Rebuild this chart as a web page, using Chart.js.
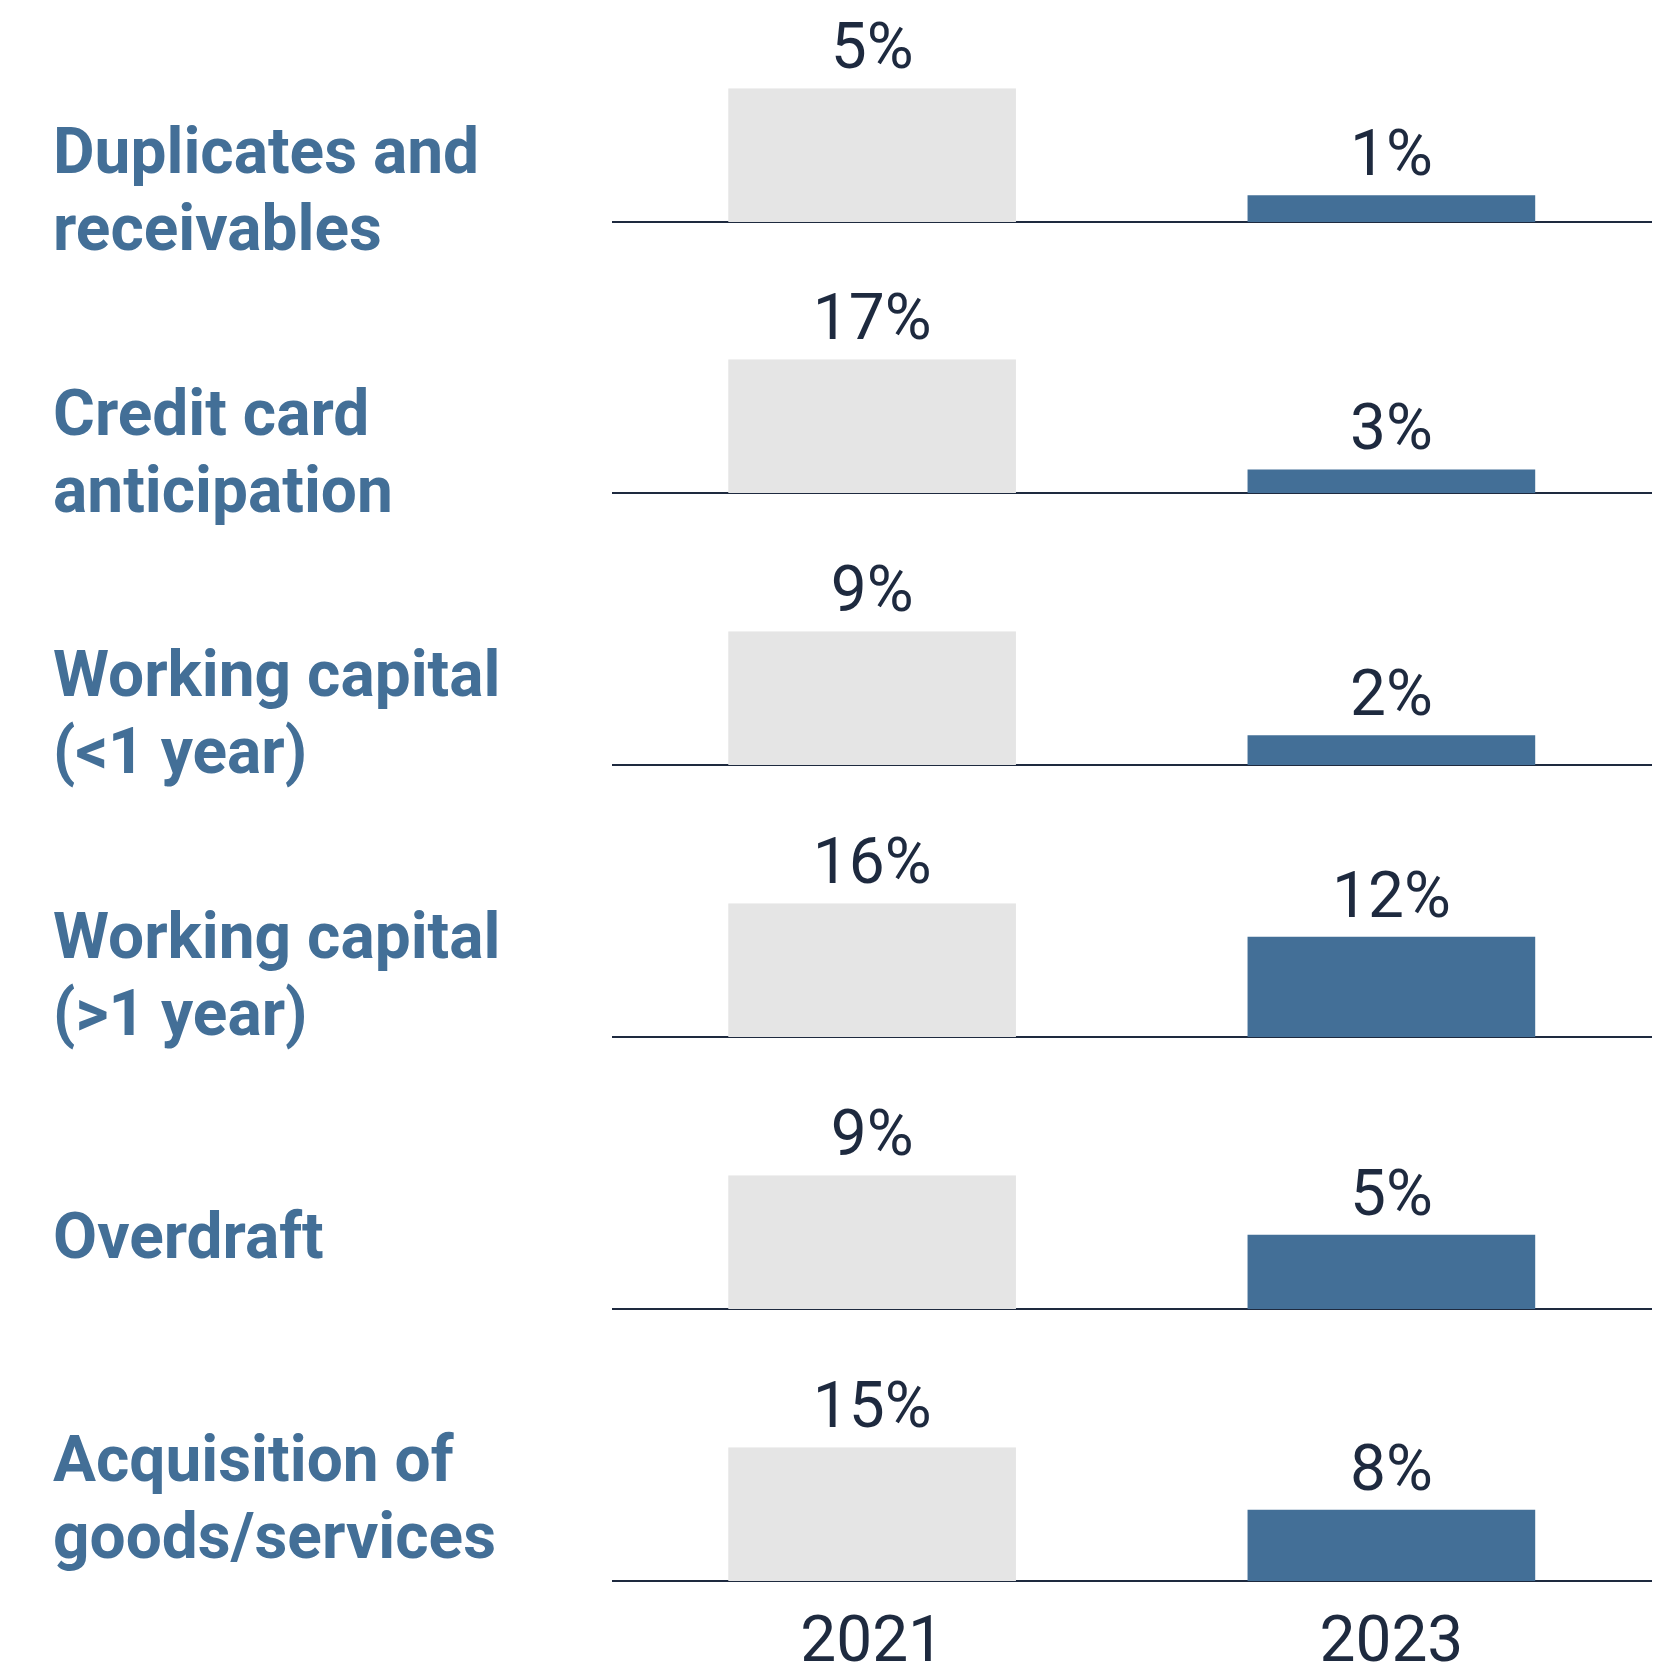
<!DOCTYPE html>
<html>
<head>
<meta charset="utf-8">
<script src="https://cdn.jsdelivr.net/npm/chart.js@4"></script>
<style>
  html, body { margin: 0; padding: 0; background: #fff; }
  body { width: 1665px; height: 1670px; position: relative; overflow: hidden; font-family: Roboto, sans-serif; }
  .cat { position: absolute; left: 53px; font-weight: 700; font-size: 64px; line-height: 77px; color: #436f97; white-space: nowrap; }
  .row { position: absolute; left: 600px; }
</style>
</head>
<body>
<script>
const categories = [
  ['Duplicates and', 'receivables'],
  ['Credit card', 'anticipation'],
  ['Working capital', '(<1 year)'],
  ['Working capital', '(>1 year)'],
  ['Overdraft'],
  ['Acquisition of', 'goods/services']
];
const years = ['2021', '2023'];
const values2021 = [5, 17, 9, 16, 9, 15];
const values2023 = [1, 3, 2, 12, 5, 8];

const navy = '#1e2a3f';
const blue = '#436f97';
const grey = '#e5e5e5';

Chart.defaults.font.family = 'Roboto';

// layout
const firstAxis = 221.6, rowStep = 271.8;   // axis line of each small chart
const barArea = 133.7;                        // plot height: the row max fills it
const headroom = 220;                         // space above the axis inside each canvas
const labelCenter0 = 212, labelStep = 261.6;

const valueLabels = {
  id: 'valueLabels',
  afterDatasetsDraw(chart) {
    const ctx = chart.ctx;
    const meta = chart.getDatasetMeta(0);
    ctx.save();
    ctx.font = '64px Roboto';
    ctx.fillStyle = navy;
    ctx.textAlign = 'center';
    ctx.textBaseline = 'alphabetic';
    meta.data.forEach((bar, j) => {
      const v = chart.data.datasets[0].data[j];
      ctx.fillText(v + '%', bar.x, bar.y - 20);
    });
    ctx.restore();
  }
};

categories.forEach((lines, i) => {
  // category label
  const lab = document.createElement('div');
  lab.className = 'cat';
  lab.innerHTML = lines.map(s => s.replace('<', '&lt;').replace('>', '&gt;')).join('<br>');
  const firstBase = labelCenter0 + labelStep * i - 38.5 * (lines.length - 1);
  lab.style.top = (firstBase - 60.4) + 'px';
  document.body.appendChild(lab);

  // small bar chart
  const last = i === categories.length - 1;
  const axisY = firstAxis + rowStep * i;
  const axisH = last ? 90 : 3;
  const h = headroom + axisH;
  const wrap = document.createElement('div');
  wrap.className = 'row';
  wrap.style.top = (axisY - headroom) + 'px';
  const cv = document.createElement('canvas');
  cv.width = 1065; cv.height = h;
  cv.style.width = '1065px'; cv.style.height = h + 'px';
  wrap.appendChild(cv);
  document.body.appendChild(wrap);

  const rowVals = [values2021[i], values2023[i]];
  new Chart(cv.getContext('2d'), {
    type: 'bar',
    data: {
      labels: years,
      datasets: [{
        data: rowVals,
        backgroundColor: [grey, blue],
        borderWidth: 0,
        categoryPercentage: 1,
        barPercentage: 0.554
      }]
    },
    options: {
      responsive: false,
      animation: false,
      layout: { padding: { top: headroom - barArea, left: 12.5, right: 14, bottom: 0 } },
      plugins: { legend: { display: false }, tooltip: { enabled: false } },
      scales: {
        x: {
          z: 1,
          grid: { display: false, drawTicks: false },
          border: { display: true, color: navy, width: 2 },
          ticks: { display: last, color: navy, font: { size: 64 }, padding: 26 },
          afterFit: s => { s.height = axisH; }
        },
        y: {
          display: false,
          min: 0,
          max: Math.max(...rowVals)
        }
      }
    },
    plugins: [valueLabels]
  });
});
</script>
</body>
</html>
